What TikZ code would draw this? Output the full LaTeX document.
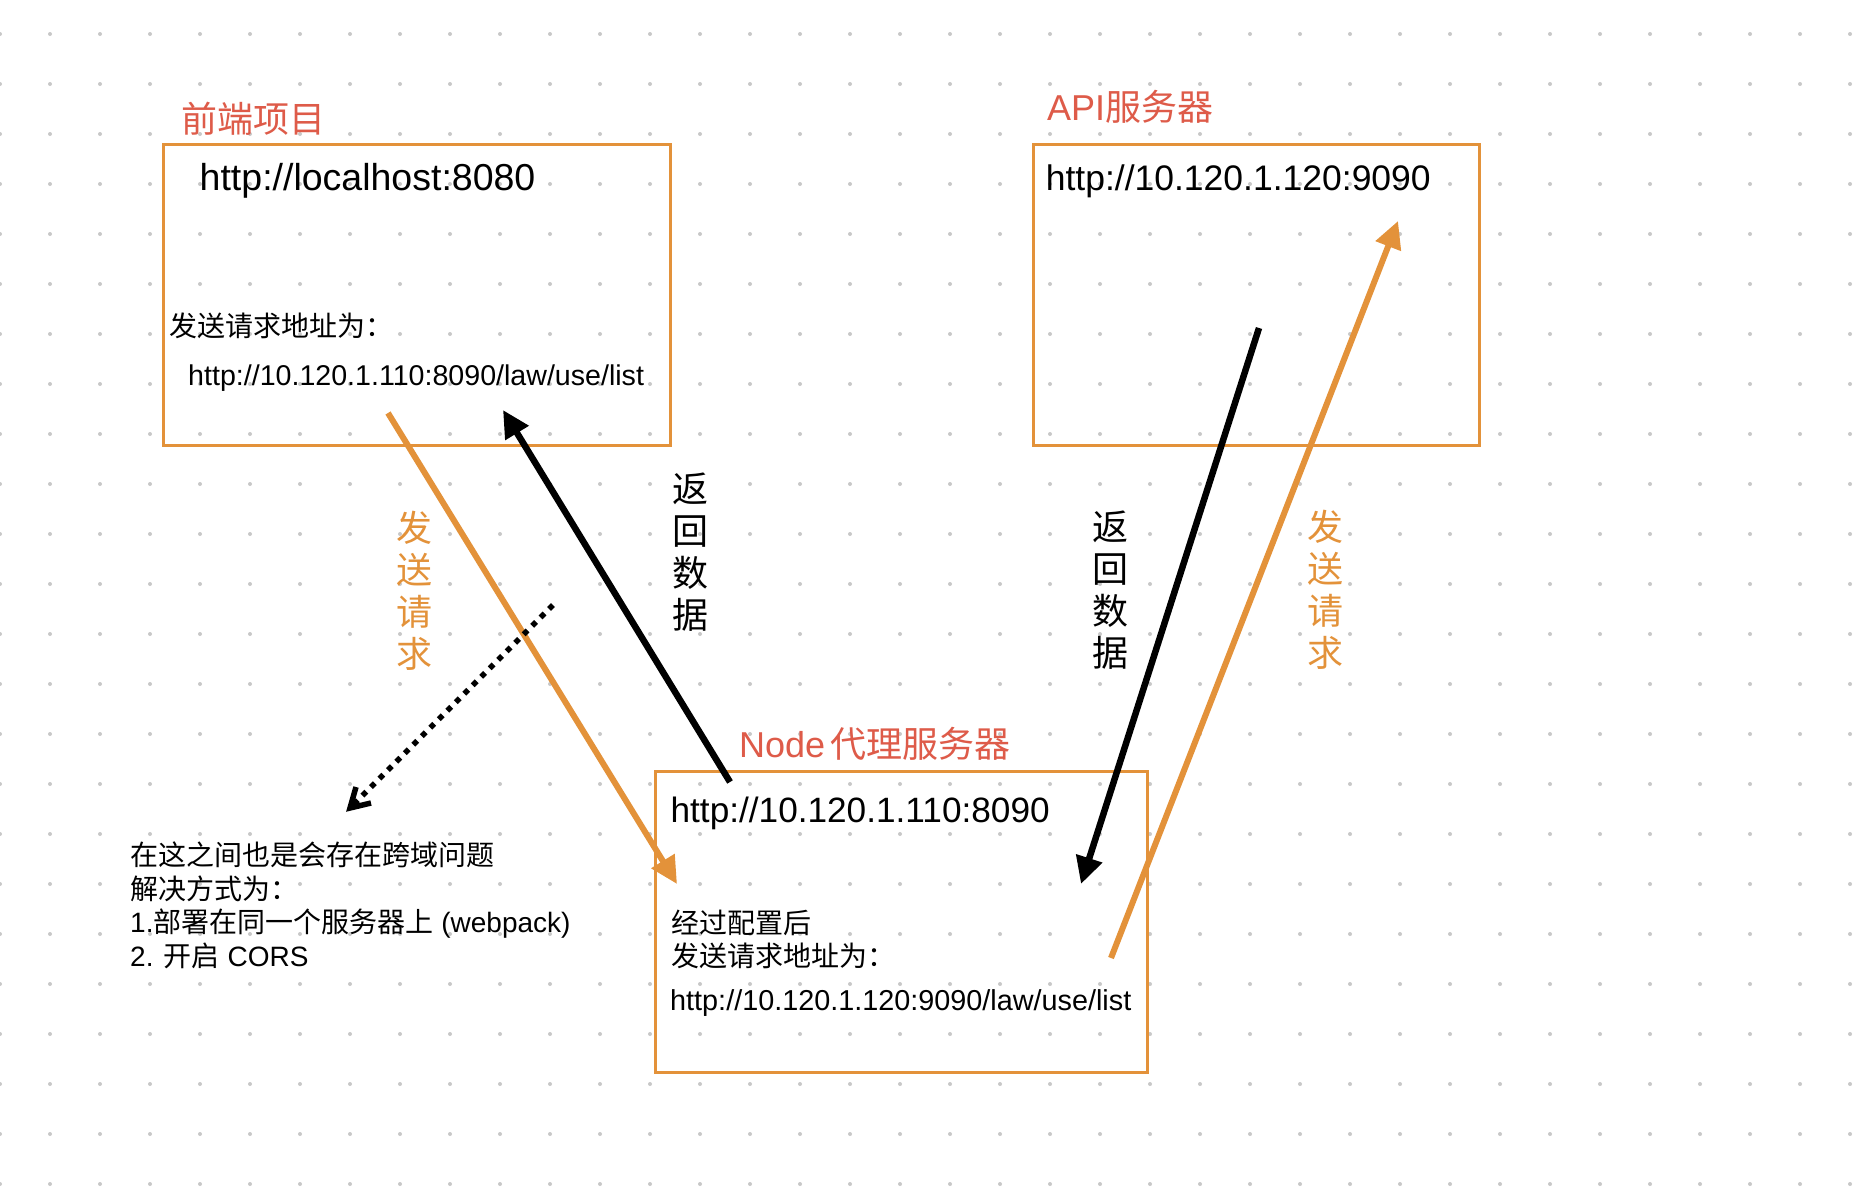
\documentclass[tikz,border=0pt]{standalone}
\usepackage{fontspec}
\setmainfont{Liberation Sans}
\newfontfamily\cjk{Noto Sans CJK SC}
\usetikzlibrary{arrows.meta}
\definecolor{boxorange}{HTML}{E3923A}
\definecolor{titlered}{HTML}{DE5B49}
\definecolor{griddot}{HTML}{C8C8C8}
\begin{document}
\begin{tikzpicture}[x=1pt,y=-1pt,
  box/.style={draw=boxorange, line width=2.5pt, inner sep=0pt, anchor=north west, minimum height=301pt},
  titletext/.style={text=titlered, font=\fontsize{36}{40}\selectfont, anchor=base west, inner sep=0pt},
  bigtext/.style={font=\fontsize{36}{40}\selectfont, anchor=base west, inner sep=0pt},
  smalltext/.style={font=\fontsize{28}{34}\selectfont, anchor=base west, inner sep=0pt},
  urltext/.style={font=\fontsize{28.5}{34}\selectfont, anchor=base west, inner sep=0pt},
  vlab/.style={font=\cjk\fontsize{36}{42}\selectfont, align=center, inner sep=0pt},
  sendarrow/.style={draw=boxorange, line width=6pt, -{Triangle[length=27pt,width=26pt]}},
  backarrow/.style={draw=black, line width=6.5pt, -{Triangle[length=27pt,width=26pt]}},
  noteline/.style={draw=black, line width=5.5pt, dash pattern=on 5.5pt off 6.5pt},
  notetip/.style={draw=black, solid, line width=5.5pt, line join=miter, line cap=butt}
]
\useasboundingbox (0,0) rectangle (1868,1202);
\fill[white] (0,0) rectangle (1868,1202);
% dot grid
\foreach \i in {0,...,37}{
  \foreach \j in {0,...,23}{
    \fill[griddot] (\i*50, 34+\j*50) circle (2pt);
  }
}
% boxes
\node[box, minimum width=507pt] (fe) at (162,143) {};
\node[box, minimum width=446pt] (api) at (1032,143) {};
\node[box, minimum width=492pt] (proxy) at (654,770) {};

% titles
\node[titletext] (fetitle) at (181,132) {\cjk 前端项目};
\node[titletext] (apititle) at (1047,120) {API{\cjk 服务器}};
\node[titletext] (proxytitle) at (739,757) {Node\hspace{5pt}{\cjk 代理服务器}};

% box texts
\node[bigtext, font=\fontsize{37.5}{40}\selectfont] (feurl) at (199.5,190) {http://localhost:8080};
\node[smalltext] (fesend) at (169.5,336) {\cjk 发送请求地址为：};
\node[urltext, font=\fontsize{28.6}{34}\selectfont] (fereq) at (188,385) {http://10.120.1.110:8090/law/use/list};

\node[bigtext, font=\fontsize{35.5}{40}\selectfont] (apiurl) at (1045.6,190) {http://10.120.1.120:9090};

\node[bigtext, font=\fontsize{35.2}{40}\selectfont] (proxyurl) at (670.4,822) {http://10.120.1.110:8090};
\node[smalltext] (proxycfg) at (671,933) {\cjk 经过配置后};
\node[smalltext] (proxysend) at (671,966) {\cjk 发送请求地址为：};
\node[urltext, font=\fontsize{28.8}{34}\selectfont] (proxyreq) at (670,1010) {http://10.120.1.120:9090/law/use/list};

% note
\node[smalltext] (note1) at (130,865) {\cjk 在这之间也是会存在跨域问题};
\node[smalltext] (note2) at (130,899) {\cjk 解决方式为：};
\node[smalltext] (note3) at (130,932) {1.{\cjk 部署在同一个服务器上} (webpack)};
\node[smalltext] (note4) at (130,966) {2. {\cjk 开启} CORS};

% vertical labels
\node[vlab, text=boxorange] (lbl1) at (414.5,591) {发\\送\\请\\求};
\node[vlab] (lbl2) at (690,552) {返\\回\\数\\据};
\node[vlab] (lbl3) at (1110.5,590) {返\\回\\数\\据};
\node[vlab, text=boxorange] (lbl4) at (1325.5,590) {发\\送\\请\\求};

% arrow end points
\coordinate (s1) at (388,413);  \coordinate (t1) at (677,884);
\coordinate (s2) at (730,782);  \coordinate (t2) at (503,410);
\coordinate (s3) at (1259,328); \coordinate (t3) at (1081,884);
\coordinate (s4) at (1111,958); \coordinate (t4) at (1398,221);
\coordinate (s5) at (553,605);  \coordinate (t5) at (350,808);
\coordinate (b1) at (371,803);  \coordinate (b2) at (356,787);

\draw[sendarrow] (s1) -- (t1);
\draw[backarrow] (s2) -- (t2);
\draw[backarrow] (s3) -- (t3);
\draw[sendarrow] (s4) -- (t4);
\draw[noteline] (s5) -- (t5);
\draw[notetip] (b1) -- (t5) -- (b2);
\end{tikzpicture}
\end{document}
